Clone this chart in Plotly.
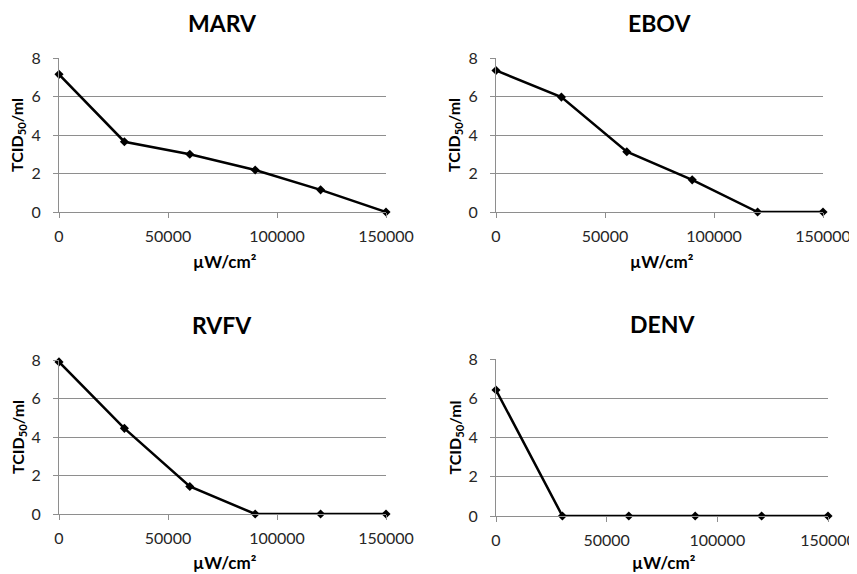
import plotly.graph_objects as go

dose = [0, 30000, 60000, 90000, 120000, 150000]
viruses = ["MARV", "EBOV", "RVFV", "DENV"]
marv = [7.15, 3.65, 3.0, 2.18, 1.15, 0]
ebov = [7.35, 5.97, 3.13, 1.67, 0, 0]
rvfv = [7.9, 4.45, 1.43, 0, 0, 0]
denv = [6.42, 0, 0, 0, 0, 0]
series = [marv, ebov, rvfv, denv]
x_ticks = [0, 50000, 100000, 150000]
y_ticks = [0, 2, 4, 6, 8]
x_title = "µW/cm²"
y_title = "<b>TCID<sub>50</sub>/ml</b>"

W, H = 857, 574
OFF = 8  # page body margin
# panel pixel boxes in the window: (left, right, top, bottom)
boxes = [(59, 386, 58, 212), (496, 823, 58, 212), (59, 386, 360, 514), (496, 828, 359, 516)]

FONT = "Lato"
GRID = "#8e8e8e"
TXT = "#262626"


def px(v):
    return (v - OFF) / W


def py(v):
    return 1 - (v - OFF) / H


fig = go.Figure()
layout = dict(
    width=W, height=H, margin=dict(l=0, r=0, t=0, b=0),
    paper_bgcolor="white", plot_bgcolor="white", showlegend=False,
    font=dict(family=FONT, color=TXT),
)
annotations = []
for i, (name, ys, box) in enumerate(zip(viruses, series, boxes)):
    k = "" if i == 0 else str(i + 1)
    l, r, t, b = box
    fig.add_trace(go.Scatter(
        x=dose, y=ys, mode="lines+markers", xaxis="x" + k, yaxis="y" + k,
        line=dict(color="black", width=2.5),
        marker=dict(symbol="diamond", size=7, color="black"),
        cliponaxis=False,
    ))
    layout["xaxis" + k] = dict(
        domain=[px(l), px(r)], anchor="y" + k, range=[0, 150000], automargin=False,
        tickvals=x_ticks, ticktext=[str(v) for v in x_ticks],
        showgrid=False, zeroline=False, showline=True, linecolor=GRID, linewidth=1,
        ticks="outside", ticklen=5, tickcolor=GRID,
        tickfont=dict(family=FONT, size=16, color=TXT), ticklabelstandoff=5,
    )
    layout["yaxis" + k] = dict(
        domain=[py(b), py(t)], anchor="x" + k, range=[0, 8], automargin=False,
        tickvals=y_ticks, showgrid=True, gridcolor=GRID, gridwidth=1,
        zeroline=False, showline=True, linecolor=GRID, linewidth=1,
        ticks="outside", ticklen=5, tickcolor=GRID,
        tickfont=dict(family=FONT, size=16, color=TXT), ticklabelstandoff=9,
    )
    cx = (l + r) / 2
    cy = (t + b) / 2
    annotations.append(dict(
        text="<b>" + name + "</b>", x=px(cx), y=py(t - 35), xref="paper", yref="paper",
        showarrow=False, font=dict(family=FONT, size=23, color="black"),
        xanchor="center", yanchor="middle",
    ))
    annotations.append(dict(
        text="<b>" + x_title + "</b>", x=px(cx + 2), y=py(min(b + 50, 562)), xref="paper", yref="paper",
        showarrow=False, font=dict(family=FONT, size=17, color="black"),
        xanchor="center", yanchor="middle",
    ))
    annotations.append(dict(
        text=y_title, x=px(l - 41), y=py(cy), xref="paper", yref="paper",
        showarrow=False, textangle=-90, font=dict(family=FONT, size=16, color="black"),
        xanchor="center", yanchor="middle",
    ))
layout["annotations"] = annotations
fig.update_layout(**layout)
fig.write_html("out.html")
